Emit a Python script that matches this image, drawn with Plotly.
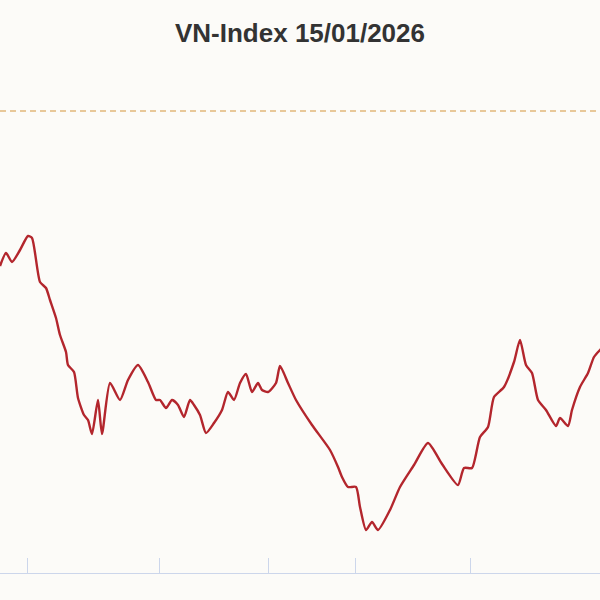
import plotly.graph_objects as go

sessions = [0, 3, 6, 10, 14, 16, 20, 23, 25, 28, 30, 33, 34, 37, 39, 42, 44, 46, 49, 51,
            55, 60, 64, 69, 74, 78, 80, 83, 86, 89, 92, 95, 97, 100, 103, 107, 111, 114,
            117, 120, 123, 126, 129, 131, 134, 138, 140, 144, 148, 156, 165, 169, 171, 174,
            178, 180, 183, 186, 189, 195, 200, 207, 214, 221, 229, 232, 236, 240, 244, 247,
            252, 257, 260, 263, 266, 269, 273, 278, 280, 284, 286, 290, 294, 297, 300, 305]
vnindex = [1822.5, 1829, 1824.5, 1830.5, 1837.5, 1836.5, 1814.5, 1811.5, 1805.5, 1796.5,
           1788, 1779.5, 1773, 1769.5, 1756.5, 1748, 1745.5, 1738.5, 1755.5, 1738.5,
           1764, 1755.5, 1765.5, 1773, 1764.5, 1755.5, 1755.5, 1751.5, 1755.5, 1753,
           1747, 1755.5, 1753, 1748, 1739, 1744, 1750.5, 1759.5, 1755.5, 1764,
           1768.5, 1759.5, 1764, 1760.5, 1759.5, 1764, 1772.5, 1764, 1755.5, 1743,
           1730.5, 1722, 1717, 1712, 1712, 1702, 1690.5, 1694.5, 1690.5, 1700.5,
           1712, 1723, 1734, 1723.5, 1713, 1721.5, 1721.5, 1737, 1742, 1757,
           1762, 1774.5, 1785.5, 1773, 1769, 1755.5, 1750.5, 1742.5, 1746.5, 1742.5,
           1750.5, 1762, 1769, 1777, 1780.5, 1785]
reference_level = 1900
month_ticks = [13.5, 79.5, 134, 177.5, 235]

fig = go.Figure()
fig.add_trace(go.Scatter(
    x=sessions, y=vnindex, mode="lines",
    line=dict(color="#b3262d", width=2.4, shape="spline", smoothing=0.6),
    hoverinfo="skip", showlegend=False,
))
fig.add_hline(y=reference_level, line=dict(color="#d4963a", width=1.2, dash="6px,4px"))

fig.update_layout(
    width=600, height=600,
    paper_bgcolor="#fcfbf8", plot_bgcolor="#fcfbf8",
    margin=dict(l=0, r=0, t=60, b=27),
    title=dict(text="<b>VN-Index 15/01/2026</b>", x=0.5, xanchor="center", y=0.945, yanchor="middle",
               font=dict(family="Liberation Sans, Arial, sans-serif", size=26, color="#333333")),
    xaxis=dict(range=[0, 300], showgrid=False, zeroline=False, showticklabels=False,
               tickmode="array", tickvals=month_ticks, ticks="inside", ticklen=15,
               tickcolor="#ccd6eb", tickwidth=1, showline=True, linecolor="#ccd6eb", linewidth=1),
    yaxis=dict(range=[1669, 1925.5], showgrid=False, zeroline=False, showticklabels=False,
               showline=False),
)

fig.write_html(
    "out.html",
    config={"displayModeBar": False, "staticPlot": True},
    post_script="document.body.style.margin='0';document.body.style.overflow='hidden';",
)
